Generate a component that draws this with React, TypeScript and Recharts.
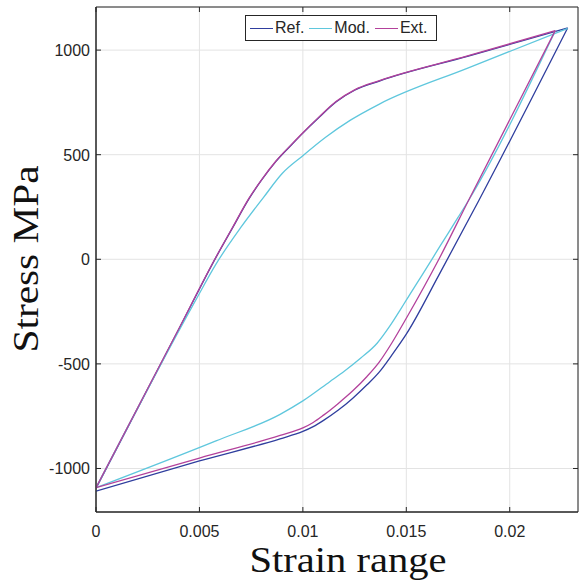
import { CartesianGrid, Label, Line, LineChart, ReferenceArea, XAxis, YAxis } from "recharts";

// Hysteresis loops. Each loop is split in an upper (loading)
// and a lower (unloading) branch, both listed with increasing strain.
const refUpperStrain = [0, 0.004, 0.0058, 0.0066, 0.0074, 0.008, 0.0087, 0.0095, 0.01, 0.0108, 0.0116, 0.0125, 0.0137, 0.018, 0.0228];
const refUpperStress = [-1095, -335, 9, 150, 290, 378, 468, 552, 603, 680, 752, 808, 852, 971, 1106];
const refLowerStrain = [0, 0.005, 0.0089, 0.01, 0.0105, 0.011, 0.0117, 0.0124, 0.0131, 0.0137, 0.0143, 0.015, 0.0166, 0.0185, 0.0228];
const refLowerStress = [-1108, -964, -858, -823, -800, -770, -722, -665, -600, -538, -458, -358, -71, 280, 1106];

const modUpperStrain = [0, 0.0048, 0.0058, 0.007, 0.0081, 0.009, 0.01, 0.0111, 0.0123, 0.0137, 0.018, 0.0228];
const modUpperStress = [-1092, -199, -23, 152, 296, 410, 495, 583, 665, 742, 915, 1104];
const modLowerStrain = [0, 0.0058, 0.0089, 0.01, 0.0113, 0.012, 0.0128, 0.0136, 0.0142, 0.0147, 0.015, 0.0158, 0.0166, 0.0175, 0.018, 0.0222];
const modLowerStress = [-1092, -868, -741, -677, -585, -535, -472, -400, -320, -243, -195, -70, 58, 200, 280, 1092];

const extUpperStrain = [0, 0.004, 0.0058, 0.0066, 0.0074, 0.008, 0.0087, 0.0095, 0.01, 0.0108, 0.0116, 0.0125, 0.0137, 0.018, 0.0222];
const extUpperStress = [-1092, -333, 11, 152, 292, 380, 470, 554, 605, 682, 754, 810, 854, 973, 1093];
const extLowerStrain = [0, 0.005, 0.0089, 0.01, 0.0105, 0.011, 0.0117, 0.0124, 0.0131, 0.0137, 0.0143, 0.015, 0.0166, 0.018, 0.0222];
const extLowerStress = [-1092, -950, -842, -806, -780, -745, -690, -630, -560, -490, -400, -282, 5, 280, 1093];

const strainTicks = [0, 0.005, 0.01, 0.015, 0.02];
const stressTicks = [-1000, -500, 0, 500, 1000];
const strainDomain = [0, 0.0233];
const stressDomain = [-1208, 1206];

const zip = (xs: number[], ys: number[]) => xs.map((x, i) => ({ x, y: ys[i] }));

const series = [
  { name: "Ref.", color: "#2f3e9e", upper: zip(refUpperStrain, refUpperStress), lower: zip(refLowerStrain, refLowerStress) },
  { name: "Mod.", color: "#5fc7dd", upper: zip(modUpperStrain, modUpperStress), lower: zip(modLowerStrain, modLowerStress) },
  { name: "Ext.", color: "#b3419b", upper: zip(extUpperStrain, extUpperStress), lower: zip(extLowerStrain, extLowerStress) },
];

const W = 579;
const H = 584;
const TOP = 7;
const LEFT = 96;
const RIGHT = 578;
const BOTTOM = 512;
const INK = "#262626";
const SANS = "'Liberation Sans', Arial, sans-serif";
const SERIF = "'Liberation Serif', serif";

function XTick({ x, payload }: any) {
  return (
    <g>
      <line x1={x} x2={x} y1={BOTTOM} y2={BOTTOM - 5} stroke={INK} />
      <line x1={x} x2={x} y1={TOP} y2={TOP + 5} stroke={INK} />
      <text x={x} y={BOTTOM + 25} textAnchor="middle" fontFamily={SANS} fontSize={16} fill={INK}>
        {String(payload.value)}
      </text>
    </g>
  );
}

function YTick({ y, payload }: any) {
  return (
    <g>
      <line x1={LEFT} x2={LEFT + 5} y1={y} y2={y} stroke={INK} />
      <line x1={RIGHT} x2={RIGHT - 5} y1={y} y2={y} stroke={INK} />
      <text x={LEFT - 6} y={y + 6} textAnchor="end" fontFamily={SANS} fontSize={16} fill={INK}>
        {String(payload.value)}
      </text>
    </g>
  );
}

export default function App() {
  return (
    <div style={{ position: "absolute", left: 0, top: 0, width: W, height: H, background: "#fff" }}>
      <LineChart width={W} height={H} margin={{ top: TOP, right: W - RIGHT, bottom: 42, left: 0 }}>
        <CartesianGrid stroke="#e3e3e3" strokeWidth={1} />
        <XAxis
          type="number"
          dataKey="x"
          domain={strainDomain}
          allowDataOverflow
          ticks={strainTicks}
          tick={<XTick />}
          tickLine={false}
          height={30}
          axisLine={{ stroke: INK }}
        >
          <Label
            content={() => (
              <text x={348} y={572} textAnchor="middle" fontFamily={SERIF} fontSize={36} fill="#111"
                textLength={197} lengthAdjust="spacingAndGlyphs">
                Strain range
              </text>
            )}
          />
        </XAxis>
        <YAxis
          type="number"
          dataKey="y"
          domain={stressDomain}
          allowDataOverflow
          ticks={stressTicks}
          tick={<YTick />}
          tickLine={false}
          width={LEFT}
          axisLine={{ stroke: INK }}
        >
          <Label
            content={() => (
              <text transform="translate(38,259) rotate(-90)" x={0} y={0} textAnchor="middle"
                fontFamily={SERIF} fontSize={36} fill="#111" textLength={187} lengthAdjust="spacingAndGlyphs">
                Stress MPa
              </text>
            )}
          />
        </YAxis>
        {series.flatMap((s) =>
          (["upper", "lower"] as const).map((branch) => (
            <Line
              key={`${s.name}-${branch}`}
              data={s[branch]}
              dataKey="y"
              name={s.name}
              type="monotone"
              stroke={s.color}
              strokeWidth={1.3}
              dot={false}
              isAnimationActive={false}
            />
          ))
        )}
        <ReferenceArea
          x1={strainDomain[0]}
          x2={strainDomain[1]}
          y1={stressDomain[0]}
          y2={stressDomain[1]}
          fill="none"
          stroke={INK}
          strokeWidth={1}
          ifOverflow="visible"
        />
      </LineChart>
      <div
        style={{
          position: "absolute",
          left: 245,
          top: 15,
          width: 186,
          height: 24,
          border: `1px solid ${INK}`,
          background: "#fff",
          display: "flex",
          alignItems: "center",
          paddingLeft: 4,
          boxSizing: "content-box",
          fontFamily: SANS,
          fontSize: 16,
          color: INK,
        }}
      >
        {series.map((s) => (
          <div key={s.name} style={{ display: "flex", alignItems: "center", marginRight: 5 }}>
            <div style={{ width: 23, height: 0, borderTop: `1.3px solid ${s.color}`, marginRight: 2 }} />
            <span>{s.name}</span>
          </div>
        ))}
      </div>
    </div>
  );
}
